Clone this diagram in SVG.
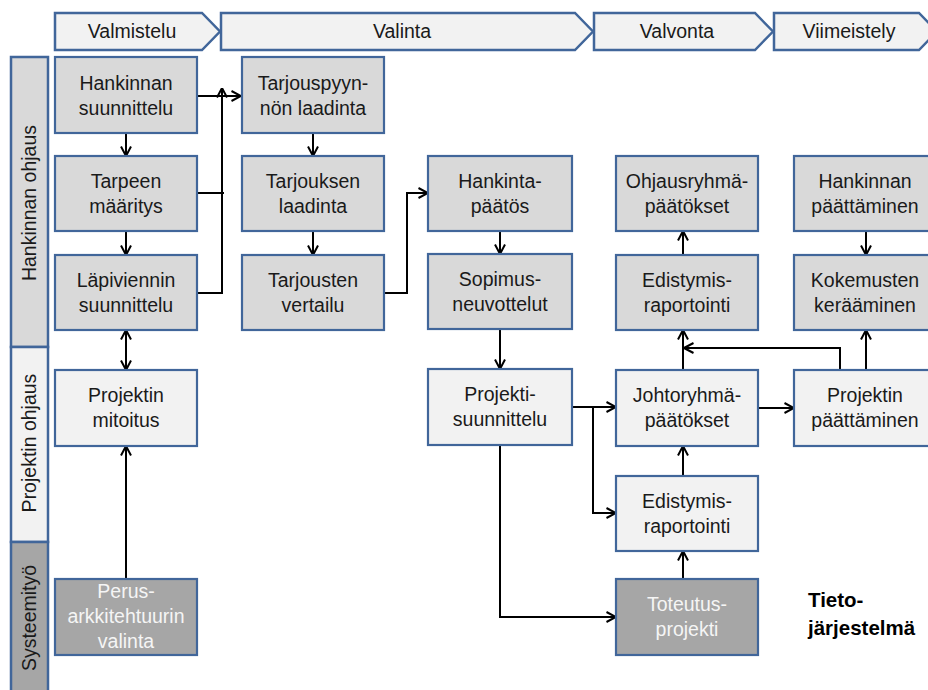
<svg xmlns="http://www.w3.org/2000/svg" width="928" height="690" viewBox="0 0 928 690">
<defs>
<marker id="ah" viewBox="0 0 11 12" refX="10.5" refY="6" markerWidth="11" markerHeight="12" markerUnits="userSpaceOnUse" orient="auto-start-reverse">
<path d="M1,1 L10.5,6 L1,11" fill="none" stroke="#000" stroke-width="2"/>
</marker>
<style>
.ph{fill:#f2f2f2;stroke:#41669a;stroke-width:2.5}
.ln{stroke:#41669a;stroke-width:2.5}
.nd{stroke:#41669a;stroke-width:2.2}
.g1{fill:#d9d9d9}
.g2{fill:#f2f2f2}
.g3{fill:#a6a6a6}
text{font-family:"Liberation Sans",Arial,sans-serif;font-size:19.5px;fill:#1a1a1a;text-anchor:middle}
.w{fill:#f5f5f5}
.c{fill:none;stroke:#000;stroke-width:2}
.a{marker-end:url(#ah)}
.b{marker-start:url(#ah);marker-end:url(#ah)}
.tj{font-weight:bold;font-size:20.5px;text-anchor:start;fill:#000}
</style>
</defs>

<g id="phases">
<g id="ph-valmistelu"><path class="ph" d="M55,13 H202 L220,31.5 L202,50 H55 Z"/><text x="132" y="38">Valmistelu</text></g>
<g id="ph-valinta"><path class="ph" d="M221,13 H575 L593,31.5 L575,50 H221 Z"/><text x="402" y="38">Valinta</text></g>
<g id="ph-valvonta"><path class="ph" d="M594,13 H755 L773,31.5 L755,50 H594 Z"/><text x="677" y="38">Valvonta</text></g>
<g id="ph-viimeistely"><path class="ph" d="M774,13 H919 L937,31.5 L919,50 H774 Z"/><text x="849" y="38">Viimeistely</text></g>
</g>

<g id="lanes">
<g id="lane-hankinnan"><rect class="ln g1" x="11" y="57" width="37" height="290"/><text transform="translate(36,203) rotate(-90)">Hankinnan ohjaus</text></g>
<g id="lane-projektin"><rect class="ln g2" x="11" y="347" width="37" height="195"/><text transform="translate(36,443) rotate(-90)">Projektin ohjaus</text></g>
<g id="lane-systeemityo"><rect class="ln g3" x="11" y="542" width="37" height="160"/><text transform="translate(36,618) rotate(-90)">Systeemityö</text></g>
</g>

<g id="connectors">
<line class="c a" x1="126" y1="133" x2="126" y2="156"/>
<line class="c a" x1="126" y1="231" x2="126" y2="255"/>
<line class="c b" x1="126" y1="330" x2="126" y2="370"/>
<line class="c a" x1="126" y1="579" x2="126" y2="446"/>
<line class="c a" x1="197" y1="96" x2="241" y2="96"/>
<path class="c" d="M197,193 H224"/>
<path class="c a" d="M197,293 H222 V88"/>
<line class="c a" x1="313" y1="133" x2="313" y2="156"/>
<line class="c a" x1="313" y1="231" x2="313" y2="255"/>
<path class="c a" d="M384,293 H407 V193 H428"/>
<line class="c a" x1="500" y1="231" x2="500" y2="254"/>
<line class="c a" x1="500" y1="329" x2="500" y2="369"/>
<line class="c a" x1="572" y1="407" x2="616" y2="407"/>
<path class="c a" d="M593,407 V513 H616"/>
<path class="c a" d="M500,445 V617 H616"/>
<line class="c a" x1="683" y1="579" x2="683" y2="551"/>
<line class="c a" x1="683" y1="476" x2="683" y2="446"/>
<line class="c a" x1="683" y1="370" x2="683" y2="330"/>
<line class="c a" x1="683" y1="255" x2="683" y2="231"/>
<line class="c a" x1="758" y1="408" x2="794" y2="408"/>
<path class="c a" d="M840,370 V348 H684"/>
<line class="c a" x1="866" y1="370" x2="866" y2="330"/>
<line class="c a" x1="866" y1="231" x2="866" y2="255"/>
</g>

<g id="n-hankinnan-suunnittelu"><rect class="nd g1" x="55" y="57" width="142" height="76"/><text x="126" y="90">Hankinnan</text><text x="126" y="115">suunnittelu</text></g>
<g id="n-tarpeen-maaritys"><rect class="nd g1" x="55" y="156" width="142" height="75"/><text x="126" y="188">Tarpeen</text><text x="126" y="213">määritys</text></g>
<g id="n-lapiviennin"><rect class="nd g1" x="55" y="255" width="142" height="75"/><text x="126" y="287">Läpiviennin</text><text x="126" y="312">suunnittelu</text></g>
<g id="n-projektin-mitoitus"><rect class="nd g2" x="55" y="370" width="142" height="76"/><text x="126" y="402">Projektin</text><text x="126" y="427">mitoitus</text></g>
<g id="n-perusarkkitehtuuri"><rect class="nd g3" x="55" y="579" width="142" height="76"/><text class="w" x="126" y="598">Perus-</text><text class="w" x="126" y="623">arkkitehtuurin</text><text class="w" x="126" y="648">valinta</text></g>

<g id="n-tarjouspyynnon"><rect class="nd g1" x="242" y="57" width="142" height="76"/><text x="313" y="90">Tarjouspyyn-</text><text x="313" y="115">nön laadinta</text></g>
<g id="n-tarjouksen"><rect class="nd g1" x="242" y="156" width="142" height="75"/><text x="313" y="188">Tarjouksen</text><text x="313" y="213">laadinta</text></g>
<g id="n-tarjousten"><rect class="nd g1" x="242" y="255" width="142" height="75"/><text x="313" y="287">Tarjousten</text><text x="313" y="312">vertailu</text></g>

<g id="n-hankintapaatos"><rect class="nd g1" x="428" y="156" width="144" height="75"/><text x="500" y="188">Hankinta-</text><text x="500" y="213">päätös</text></g>
<g id="n-sopimus"><rect class="nd g1" x="428" y="254" width="144" height="75"/><text x="500" y="286">Sopimus-</text><text x="500" y="311">neuvottelut</text></g>
<g id="n-projektisuunnittelu"><rect class="nd g2" x="428" y="369" width="144" height="76"/><text x="500" y="401">Projekti-</text><text x="500" y="426">suunnittelu</text></g>

<g id="n-ohjausryhma"><rect class="nd g1" x="616" y="156" width="142" height="75"/><text x="687" y="188">Ohjausryhmä-</text><text x="687" y="213">päätökset</text></g>
<g id="n-edistymis1"><rect class="nd g1" x="616" y="255" width="142" height="75"/><text x="687" y="287">Edistymis-</text><text x="687" y="312">raportointi</text></g>
<g id="n-johtoryhma"><rect class="nd g2" x="616" y="370" width="142" height="76"/><text x="687" y="402">Johtoryhmä-</text><text x="687" y="427">päätökset</text></g>
<g id="n-edistymis2"><rect class="nd g2" x="616" y="476" width="142" height="75"/><text x="687" y="508">Edistymis-</text><text x="687" y="533">raportointi</text></g>
<g id="n-toteutus"><rect class="nd g3" x="616" y="579" width="142" height="76"/><text class="w" x="687" y="611">Toteutus-</text><text class="w" x="687" y="636">projekti</text></g>

<g id="n-hankinnan-paattaminen"><rect class="nd g1" x="794" y="156" width="142" height="75"/><text x="865" y="188">Hankinnan</text><text x="865" y="213">päättäminen</text></g>
<g id="n-kokemusten"><rect class="nd g1" x="794" y="255" width="142" height="75"/><text x="865" y="287">Kokemusten</text><text x="865" y="312">kerääminen</text></g>
<g id="n-projektin-paattaminen"><rect class="nd g2" x="794" y="370" width="142" height="76"/><text x="865" y="402">Projektin</text><text x="865" y="427">päättäminen</text></g>

<g id="label-tietojarjestelma"><text class="tj" x="808" y="607">Tieto-</text><text class="tj" x="808" y="635">järjestelmä</text></g>
</svg>
